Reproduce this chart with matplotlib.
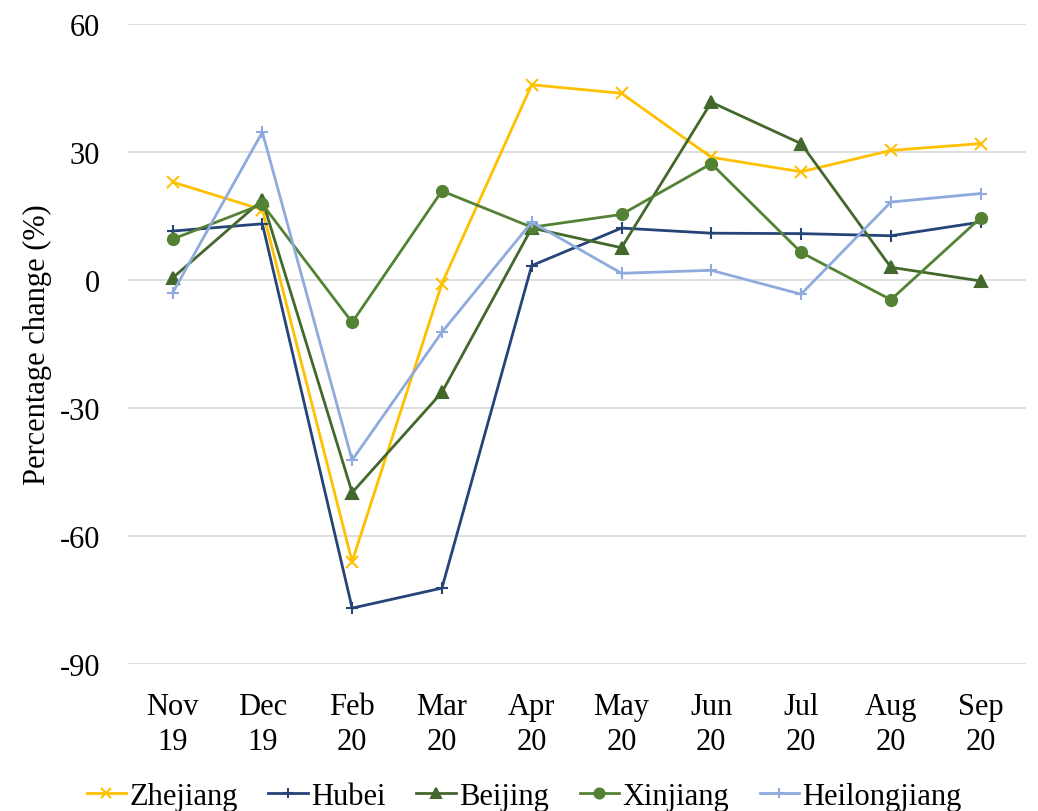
import matplotlib
matplotlib.use("Agg")
import matplotlib.pyplot as plt

plt.rcParams['font.family'] = ['Liberation Serif', 'DejaVu Serif']
plt.rcParams['axes.unicode_minus'] = False

# -----------------------------
# Data (percentage change)
# -----------------------------
months = ['Nov\n19', 'Dec\n19', 'Feb\n20', 'Mar\n20', 'Apr\n20',
          'May\n20', 'Jun\n20', 'Jul\n20', 'Aug\n20', 'Sep\n20']

zhejiang = [23.0, 16.5, -66.0, -0.8, 45.8, 43.8, 28.8, 25.4, 30.4, 32.0]
hubei = [11.5, 13.2, -76.9, -72.2, 3.4, 12.2, 11.0, 10.9, 10.4, 13.6]
beijing = [0.5, 18.8, -49.8, -26.3, 12.2, 7.6, 41.7, 32.0, 3.0, -0.2]
xinjiang = [9.6, 17.8, -9.9, 20.9, 12.4, 15.4, 27.3, 6.5, -4.6, 14.6]
heilongjiang = [-3.0, 34.7, -42.2, -12.2, 13.6, 1.6, 2.3, -3.3, 18.3, 20.3]

series = [
    ('Zhejiang', zhejiang, '#FFC000', 'x'),
    ('Hubei', hubei, '#264478', '+'),
    ('Beijing', beijing, '#43682B', '^'),
    ('Xinjiang', xinjiang, '#548235', 'o'),
    ('Heilongjiang', heilongjiang, '#8FAADC', '+'),
]

# -----------------------------
# Plot
# -----------------------------
fig = plt.figure(figsize=(10.38, 8.12), dpi=100)
ax = fig.add_axes([0.123, 0.181, 0.865, 0.788])

x = list(range(len(months)))
for name, vals, color, marker in series:
    ax.plot(x, vals, color=color, marker=marker, lw=2.0, ms=8,
            mew=1.5, label=name, zorder=3)

ax.set_ylim(-90, 60)
ax.set_yticks([-90, -60, -30, 0, 30, 60])
ax.set_xlim(-0.5, len(months) - 0.5)
ax.set_xticks(x)
ax.set_xticklabels(months, fontsize=22, linespacing=1.3)
ax.tick_params(axis='y', labelsize=22, length=0, pad=20)
ax.tick_params(axis='x', length=0, pad=20)
ax.grid(axis='y', color='#D9D9D9', lw=1.2, zorder=0)
for s in ax.spines.values():
    s.set_visible(False)
ax.set_ylabel('Percentage change (%)', fontsize=22, labelpad=5)

fig.legend(loc='lower center', bbox_to_anchor=(0.505, -0.034), ncol=5,
           frameon=False, fontsize=22, handlelength=1.3, handletextpad=0.1,
           columnspacing=1.0, markerscale=0.9)

fig.savefig('out.png', dpi=100)
